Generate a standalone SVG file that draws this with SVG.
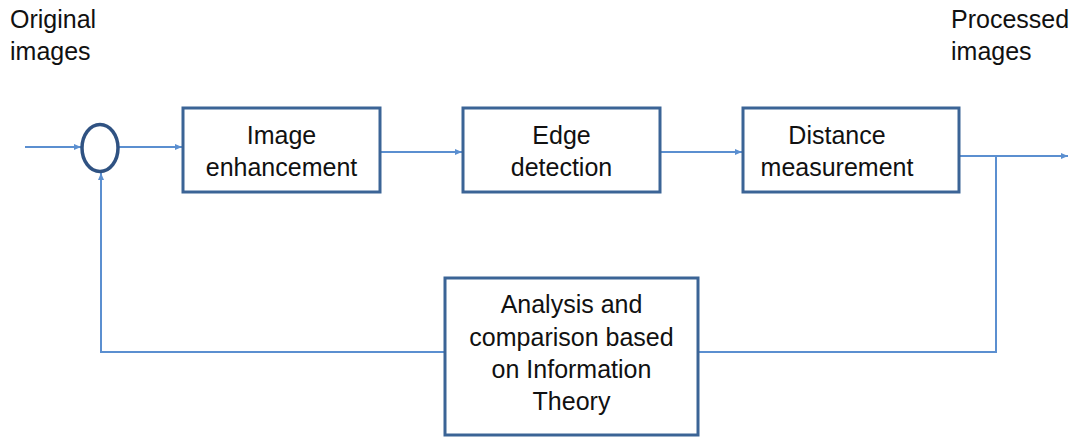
<svg xmlns="http://www.w3.org/2000/svg" width="1069" height="437" viewBox="0 0 1069 437">
  <style>
    .box { fill: #ffffff; stroke: #3b6496; stroke-width: 3; }
    .sum { fill: #ffffff; stroke: #2f5282; stroke-width: 3.5; }
    .wire { fill: none; stroke: #5b8fd0; stroke-width: 2; }
    .label { font-family: "Liberation Sans", Arial, sans-serif; font-size: 25px; fill: #111111; text-anchor: middle; }
    .caption { font-family: "Liberation Sans", Arial, sans-serif; font-size: 25px; fill: #111111; }
  </style>
  <defs>
    <marker id="arrow" markerWidth="8" markerHeight="8" refX="7" refY="4" orient="auto" markerUnits="userSpaceOnUse">
      <path d="M0,1 L7,4 L0,7 Z" fill="#5b8fd0"/>
    </marker>
  </defs>

  <rect width="1069" height="437" fill="#ffffff"/>

  <!-- connectors -->
  <g id="connectors">
    <line class="wire" x1="25" y1="147" x2="81" y2="147" marker-end="url(#arrow)"/>
    <line class="wire" x1="119" y1="147" x2="182" y2="147" marker-end="url(#arrow)"/>
    <line class="wire" x1="380" y1="152" x2="462" y2="152" marker-end="url(#arrow)"/>
    <line class="wire" x1="660" y1="152" x2="742" y2="152" marker-end="url(#arrow)"/>
    <line class="wire" x1="939" y1="156" x2="1068" y2="156" marker-end="url(#arrow)"/>
    <polyline class="wire" points="996,156 996,352 698,352"/>
    <polyline class="wire" points="445,352 101,352 101,173" marker-end="url(#arrow)"/>
  </g>

  <!-- summing junction -->
  <g id="sum">
    <ellipse class="sum" cx="100" cy="148" rx="18" ry="23.5"/>
  </g>

  <g id="enhancement">
    <rect class="box" x="183" y="108" width="197" height="84"/>
    <text class="label" x="281.5" y="144">Image</text>
    <text class="label" x="281.5" y="176">enhancement</text>
  </g>

  <g id="edge">
    <rect class="box" x="463" y="108" width="197" height="84"/>
    <text class="label" x="561.5" y="144">Edge</text>
    <text class="label" x="561.5" y="176">detection</text>
  </g>

  <g id="distance">
    <rect class="box" x="743" y="108" width="216" height="84"/>
    <text class="label" x="837" y="144">Distance</text>
    <text class="label" x="837" y="176">measurement</text>
  </g>

  <g id="analysis">
    <rect class="box" x="445" y="278" width="253" height="157"/>
    <text class="label" x="571.5" y="313">Analysis and</text>
    <text class="label" x="571.5" y="346">comparison based</text>
    <text class="label" x="571.5" y="378">on Information</text>
    <text class="label" x="571.5" y="410">Theory</text>
  </g>

  <g id="input-label">
    <text class="caption" x="10" y="28">Original</text>
    <text class="caption" x="10" y="60">images</text>
  </g>

  <g id="output-label">
    <text class="caption" x="951" y="28">Processed</text>
    <text class="caption" x="951" y="60">images</text>
  </g>
</svg>
